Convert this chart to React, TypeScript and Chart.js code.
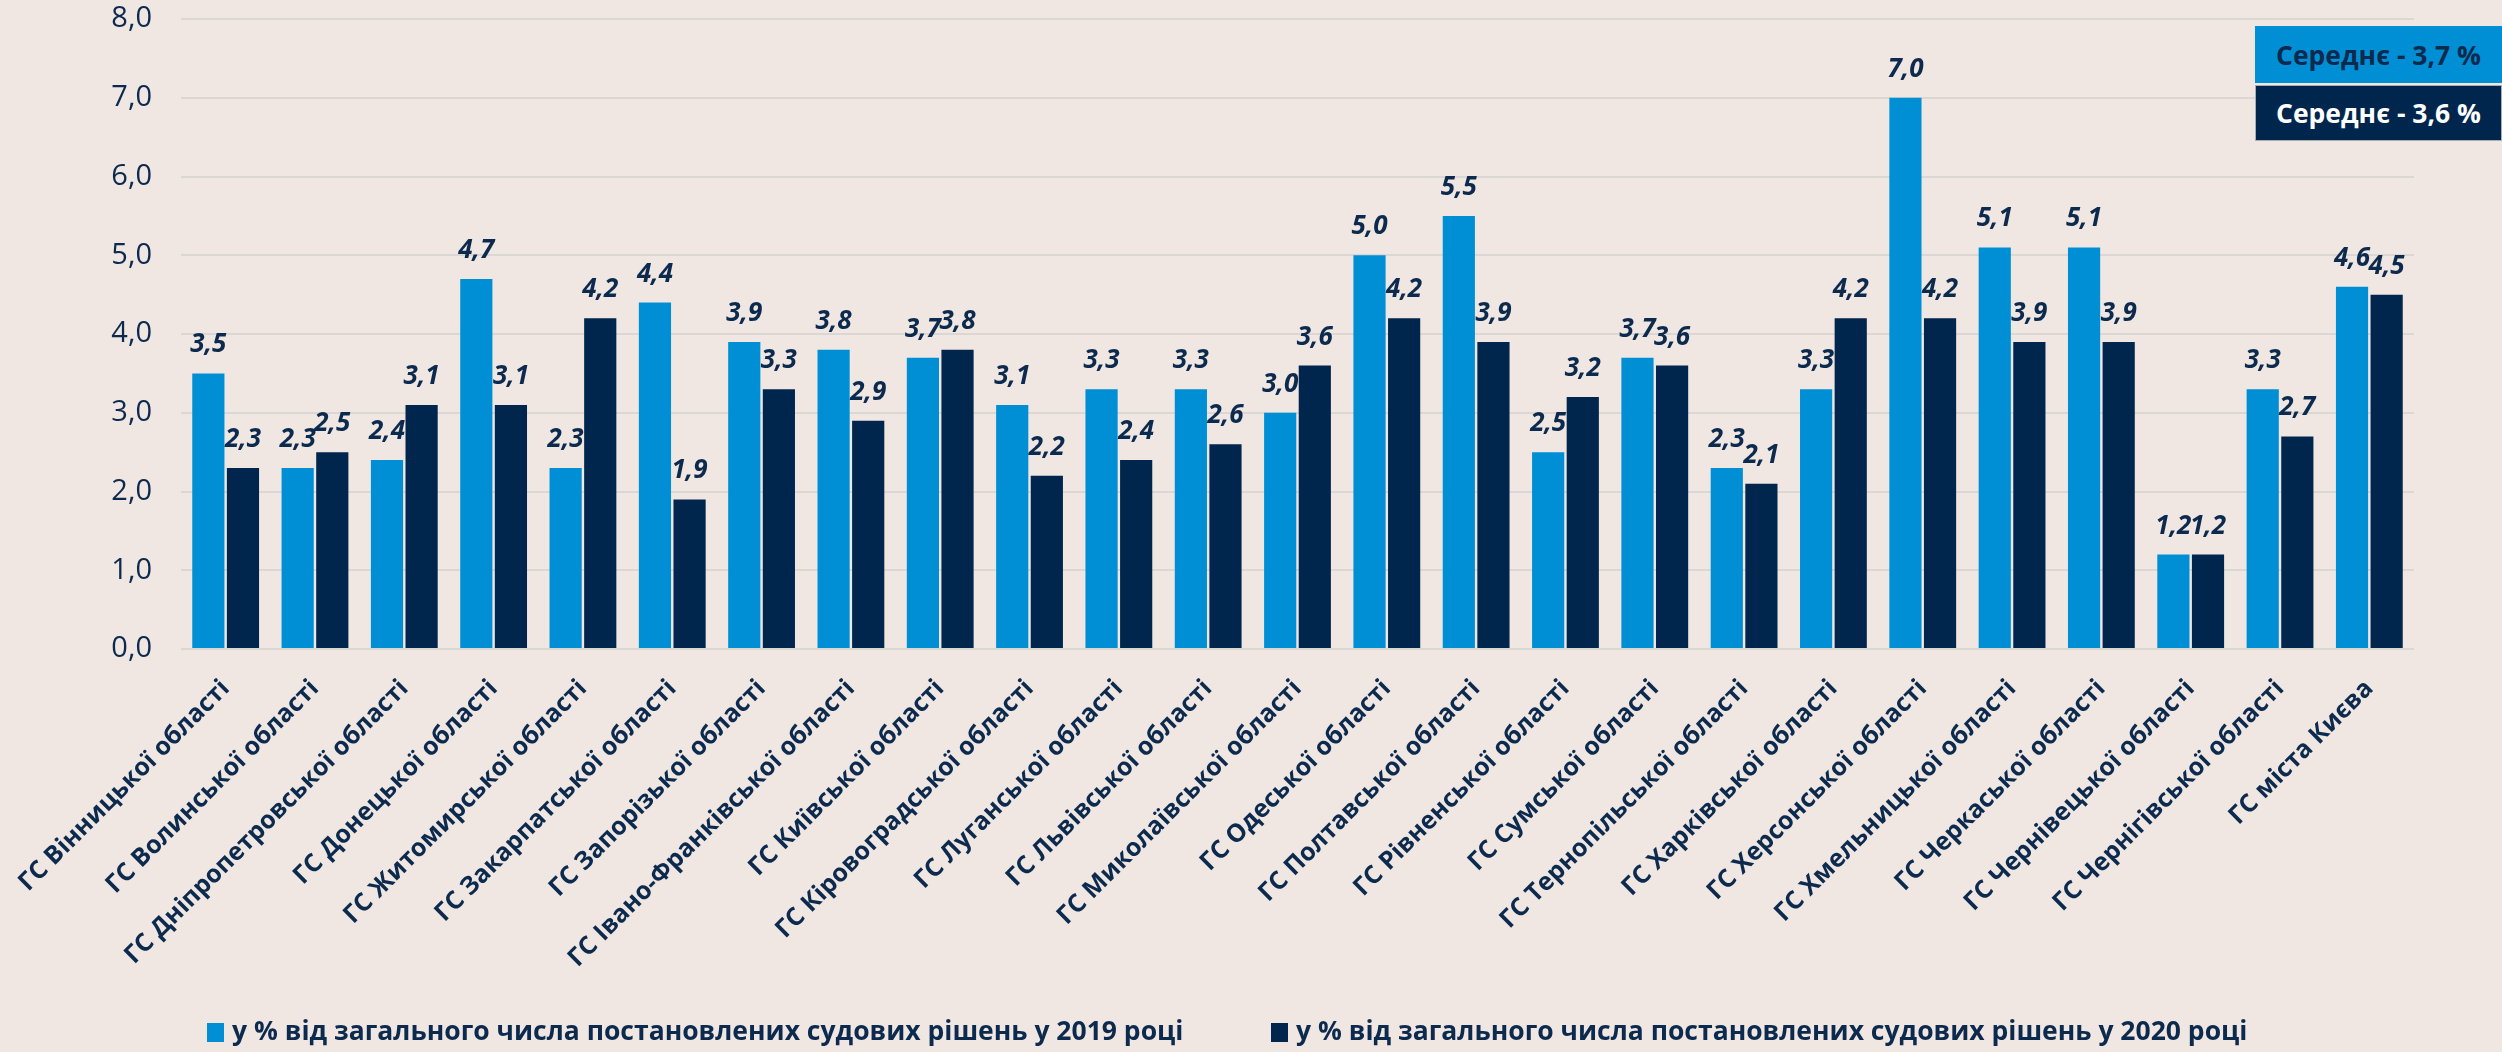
import React, { useEffect, useRef } from "react";
import { Chart, registerables } from "chart.js";

Chart.register(...registerables);

const categories = [
  "ГС Вінницької області",
  "ГС Волинської області",
  "ГС Дніпропетровської області",
  "ГС Донецької області",
  "ГС Житомирської області",
  "ГС Закарпатської області",
  "ГС Запорізької області",
  "ГС Івано-Франківської області",
  "ГС Київської області",
  "ГС Кіровоградської області",
  "ГС Луганської області",
  "ГС Львівської області",
  "ГС Миколаївської області",
  "ГС Одеської області",
  "ГС Полтавської області",
  "ГС Рівненської області",
  "ГС Сумської області",
  "ГС Тернопільської області",
  "ГС Харківської області",
  "ГС Херсонської області",
  "ГС Хмельницької області",
  "ГС Черкаської області",
  "ГС Чернівецької області",
  "ГС Чернігівської області",
  "ГС міста Києва",
];

const values2019 = [3.5, 2.3, 2.4, 4.7, 2.3, 4.4, 3.9, 3.8, 3.7, 3.1, 3.3, 3.3, 3.0, 5.0, 5.5, 2.5, 3.7, 2.3, 3.3, 7.0, 5.1, 5.1, 1.2, 3.3, 4.6];
const values2020 = [2.3, 2.5, 3.1, 3.1, 4.2, 1.9, 3.3, 2.9, 3.8, 2.2, 2.4, 2.6, 3.6, 4.2, 3.9, 3.2, 3.6, 2.1, 4.2, 4.2, 3.9, 3.9, 1.2, 2.7, 4.5];

const seriesNames = [
  "у % від загального числа постановлених судових рішень у 2019 році",
  "у % від загального числа постановлених судових рішень у 2020 році",
];
const averageLabels = ["Середнє - 3,7 %", "Середнє - 3,6 %"];

const yTicksMin = 0;
const yTicksMax = 8;
const yTicksStep = 1;

const BG = "#F0E7E3";
const LIGHT = "#008FD5";
const DARK = "#00264D";
const TEXT = "#0C2A4D";
const GRID = "#DAD7D5";
const FONT = '"Open Sans", "Noto Sans", sans-serif';

const fmt = (v: number) => v.toFixed(1).replace(".", ",");

const valueLabels = {
  id: "valueLabels",
  afterDatasetsDraw(chart: any) {
    const ctx = chart.ctx;
    ctx.save();
    ctx.font = `italic bold 26px ${FONT}`;
    ctx.fillStyle = TEXT;
    ctx.textAlign = "center";
    ctx.textBaseline = "alphabetic";
    chart.data.datasets.forEach((ds: any, i: number) => {
      const meta = chart.getDatasetMeta(i);
      meta.data.forEach((el: any, j: number) => {
        ctx.fillText(fmt(ds.data[j]), el.x, el.y - 21);
      });
    });
    ctx.restore();
  },
};

export default function App() {
  const ref = useRef<HTMLCanvasElement | null>(null);

  useEffect(() => {
    document.body.style.margin = "0";
    const canvas = ref.current;
    if (!canvas) return;
    const chart = new Chart(canvas, {
      type: "bar",
      data: {
        labels: categories,
        datasets: [
          { label: seriesNames[0], data: values2019, backgroundColor: LIGHT },
          { label: seriesNames[1], data: values2020, backgroundColor: DARK },
        ],
      },
      options: {
        responsive: false,
        animation: false,
        devicePixelRatio: 1,
        layout: { padding: { top: 19, right: 88, left: 0, bottom: 0 } },
        datasets: {
          bar: { categoryPercentage: 0.775, barPercentage: 0.93 },
        },
        plugins: {
          legend: { display: false },
          tooltip: { enabled: false },
        },
        scales: {
          x: {
            grid: { display: false, drawTicks: false },
            border: { display: false },
            ticks: {
              autoSkip: false,
              minRotation: 45,
              maxRotation: 45,
              padding: 25,
              color: TEXT,
              font: { family: FONT, size: 25, weight: "bold" },
            },
            afterFit: (s: any) => {
              s.height = 403;
              s.paddingLeft = 0;
              s.paddingRight = 0;
            },
          },
          y: {
            min: yTicksMin,
            max: yTicksMax,
            grid: { color: GRID, lineWidth: 2, drawTicks: false },
            border: { display: false },
            ticks: {
              stepSize: yTicksStep,
              padding: 29,
              color: TEXT,
              font: { family: FONT, size: 29 },
              callback: (v: any) => fmt(Number(v)),
            },
            afterFit: (s: any) => {
              s.width = 181;
              s.paddingTop = 0;
              s.paddingBottom = 0;
            },
          },
        },
      },
      plugins: [valueLabels],
    });
    return () => chart.destroy();
  }, []);

  const legendText: React.CSSProperties = {
    position: "absolute",
    top: 1017,
    font: `bold 26.5px ${FONT}`,
    lineHeight: "26px",
    color: TEXT,
    whiteSpace: "nowrap",
  };
  const box: React.CSSProperties = {
    position: "absolute",
    left: 2255,
    width: 247,
    display: "flex",
    alignItems: "center",
    justifyContent: "center",
    font: `bold 26.5px ${FONT}`,
    boxSizing: "border-box",
    whiteSpace: "nowrap",
  };

  return (
    <div style={{ position: "relative", width: 2502, height: 1052, background: BG, overflow: "hidden" }}>
      <canvas ref={ref} width={2502} height={1052} style={{ display: "block" }} />
      <div style={{ position: "absolute", left: 207, top: 1023, width: 17, height: 19, background: LIGHT }} />
      <div style={{ ...legendText, left: 232 }}>{seriesNames[0]}</div>
      <div style={{ position: "absolute", left: 1271, top: 1023, width: 17, height: 19, background: DARK }} />
      <div style={{ ...legendText, left: 1296 }}>{seriesNames[1]}</div>
      <div style={{ ...box, top: 26, height: 57, background: LIGHT, color: TEXT }}>{averageLabels[0]}</div>
      <div style={{ ...box, top: 85, height: 56, background: DARK, color: "#FFFFFF", border: "1px solid #A9AEB5" }}>
        {averageLabels[1]}
      </div>
    </div>
  );
}
